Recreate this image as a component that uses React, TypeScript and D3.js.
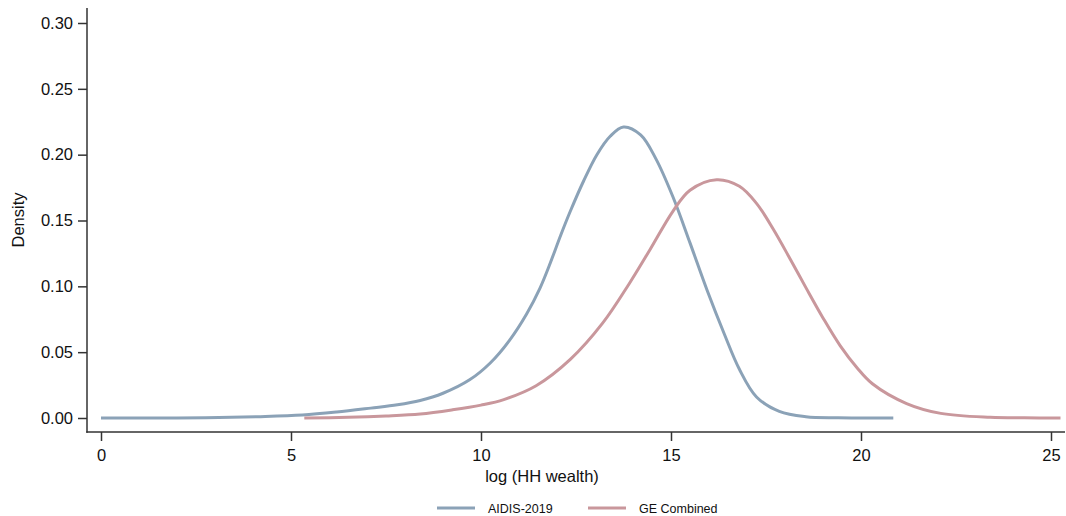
import { useEffect, useRef } from "react";
import * as d3 from "d3";

// kernel density estimates
const aidisX = [0, 2, 3.1, 4.2, 5.3, 6.2, 7.1, 7.8, 8.4, 9.0, 9.7, 10.25, 10.75, 11.2, 11.55, 11.8, 12.1, 12.35, 12.7, 13.05, 13.4, 13.75, 14.2, 14.6, 15.05, 15.5, 15.95, 16.4, 16.8, 17.25, 17.85, 18.55, 19.4, 20.85];
const aidisD = [0, 0, 0.0004, 0.001, 0.0022, 0.0045, 0.0075, 0.01, 0.0133, 0.0188, 0.029, 0.042, 0.059, 0.079, 0.0985, 0.116, 0.139, 0.157, 0.18, 0.2, 0.214, 0.221, 0.215, 0.197, 0.168, 0.133, 0.097, 0.064, 0.037, 0.016, 0.005, 0.001, 0.0002, 0];

const geX = [5.35, 6.5, 7.5, 8.4, 9.25, 10.0, 10.6, 11.45, 12.35, 13.2, 13.9, 14.45, 15.05, 15.5, 16.2, 16.8, 17.25, 17.7, 18.15, 18.55, 19.0, 19.45, 19.9, 20.3, 21.2, 22.1, 23.4, 24.3, 25.25];
const geD = [0, 0.0005, 0.0015, 0.003, 0.0062, 0.0098, 0.014, 0.0245, 0.0445, 0.072, 0.102, 0.128, 0.157, 0.173, 0.181, 0.176, 0.163, 0.143, 0.12, 0.099, 0.076, 0.055, 0.038, 0.026, 0.011, 0.0035, 0.0005, 0.0001, 0];

const xTicks = [0, 5, 10, 15, 20, 25];
const yTicks = [0, 0.05, 0.1, 0.15, 0.2, 0.25, 0.3];

const series = [
  { name: "AIDIS-2019", xs: aidisX, ds: aidisD, color: "#8ba2b7" },
  { name: "GE Combined", xs: geX, ds: geD, color: "#c9979c" },
];

const W = 1066;
const H = 516;
const font = "Liberation Sans, Arial, sans-serif";

export default function App() {
  const ref = useRef<SVGSVGElement>(null);

  useEffect(() => {
    const svg = d3.select(ref.current);
    svg.selectAll("*").remove();

    const x = d3.scaleLinear().domain([0, 25]).range([101, 1051]);
    const y = d3.scaleLinear().domain([0, 0.3]).range([418, 23]);
    const axisX = 87;
    const axisY = 432;

    svg.append("rect").attr("width", W).attr("height", H).attr("fill", "#fff");

    // curves
    const line = d3
      .line<[number, number]>()
      .x((d) => x(d[0]))
      .y((d) => y(d[1]))
      .curve(d3.curveCatmullRom.alpha(0.5));

    for (const s of series) {
      const pts = s.xs.map((v, i) => [v, s.ds[i]] as [number, number]);
      svg
        .append("path")
        .attr("d", line(pts))
        .attr("fill", "none")
        .attr("stroke", s.color)
        .attr("stroke-width", 3)
        .attr("stroke-linejoin", "round");
    }

    // y axis
    const gy = svg
      .append("g")
      .attr("transform", `translate(${axisX},0)`)
      .call(d3.axisLeft(y).tickValues(yTicks).tickFormat(d3.format(".2f")).tickSize(9).tickPadding(5));
    gy.select(".domain").remove();
    gy.selectAll("line").attr("stroke", "#333").attr("stroke-width", 1.5);
    gy.selectAll("text").attr("font-family", font).attr("font-size", 16.5).attr("fill", "#111");

    // x axis
    const gx = svg
      .append("g")
      .attr("transform", `translate(0,${axisY})`)
      .call(d3.axisBottom(x).tickValues(xTicks).tickFormat(d3.format("d")).tickSize(9).tickPadding(8));
    gx.select(".domain").remove();
    gx.selectAll("line").attr("stroke", "#333").attr("stroke-width", 1.5);
    gx.selectAll("text").attr("font-family", font).attr("font-size", 16.5).attr("fill", "#111");

    svg.append("line").attr("x1", axisX).attr("x2", axisX).attr("y1", 8).attr("y2", axisY + 0.75)
      .attr("stroke", "#333").attr("stroke-width", 1.5);
    svg.append("line").attr("x1", axisX - 0.75).attr("x2", 1065).attr("y1", axisY).attr("y2", axisY)
      .attr("stroke", "#333").attr("stroke-width", 1.5);

    // axis titles
    svg.append("text")
      .attr("transform", `translate(24,220) rotate(-90)`)
      .attr("text-anchor", "middle")
      .attr("font-family", font).attr("font-size", 16.5).attr("fill", "#111")
      .text("Density");
    svg.append("text")
      .attr("x", 542).attr("y", 482)
      .attr("text-anchor", "middle")
      .attr("font-family", font).attr("font-size", 16.5).attr("fill", "#111")
      .text("log (HH wealth)");

    // legend
    const legendX = [437, 588];
    series.forEach((s, i) => {
      const g = svg.append("g").attr("transform", `translate(${legendX[i]},508)`);
      g.append("line").attr("x1", 0).attr("x2", 38).attr("stroke", s.color).attr("stroke-width", 3);
      g.append("text").attr("x", 51).attr("y", 4.5)
        .attr("font-family", font).attr("font-size", 12.5).attr("fill", "#111")
        .text(s.name);
    });
  }, []);

  return (
    <svg
      ref={ref}
      width={W}
      height={H}
      style={{ position: "absolute", left: 0, top: 0, display: "block" }}
    />
  );
}
